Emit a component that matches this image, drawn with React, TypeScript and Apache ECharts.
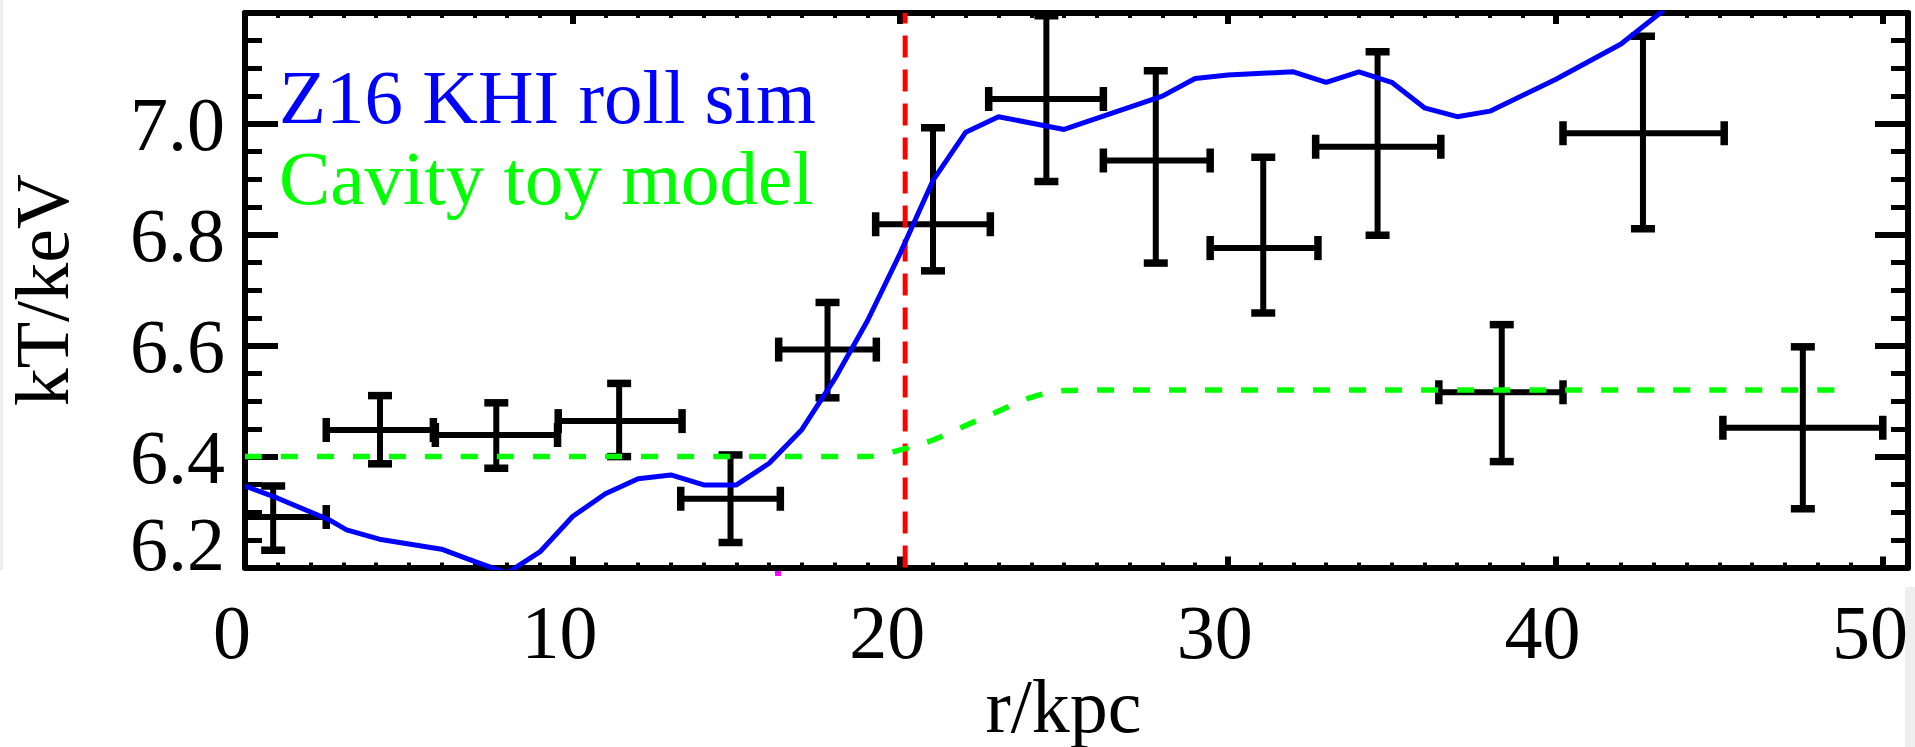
import React, { useEffect, useRef } from 'react';
import * as echarts from 'echarts';

const FONT = '"Liberation Serif", "Times New Roman", serif';

// Axis ranges
const X_MIN = 0;
const X_MAX = 50.76;
const Y_MIN = 6.2;
const Y_MAX = 7.2;
const xTickLabels = ['0', '10', '20', '30', '40', '50'];
const yTickLabels = ['6.2', '6.4', '6.6', '6.8', '7.0'];

// Z16 KHI roll simulation (blue)
const simR = [0, 1, 2, 2.6, 3.1, 4.1, 6, 7, 8, 9, 10, 11, 12, 13, 14, 15, 16, 17, 18, 19, 20, 21, 22, 23, 25, 28, 29, 30, 32, 33, 34, 35, 36, 37, 38, 40, 42, 43.3];
const simT = [6.347, 6.325, 6.3, 6.285, 6.268, 6.251, 6.233, 6.211, 6.19, 6.228, 6.292, 6.333, 6.36, 6.367, 6.349, 6.349, 6.388, 6.449, 6.54, 6.645, 6.767, 6.898, 6.985, 7.013, 6.99, 7.05, 7.082, 7.088, 7.094, 7.075, 7.094, 7.075, 7.029, 7.013, 7.023, 7.08, 7.144, 7.205];

// Cavity toy model (green dashed)
const toyR = [0, 19, 20, 21, 22, 23, 24, 25, 26, 49];
const toyT = [6.4, 6.4, 6.412, 6.43, 6.456, 6.482, 6.507, 6.519, 6.52, 6.52];

// Observed profile with error bars
const obsR = [0.86, 4.12, 7.67, 11.42, 14.82, 17.78, 21.0, 24.46, 27.8, 31.08, 34.57, 38.36, 42.67, 47.55];
const obsT = [6.291, 6.448, 6.439, 6.464, 6.324, 6.593, 6.819, 7.045, 6.934, 6.776, 6.959, 6.516, 6.983, 6.452];
const obsRlo = [-0.76, 2.48, 5.81, 9.56, 13.3, 16.29, 19.25, 22.7, 26.2, 29.46, 32.68, 36.44, 40.23, 45.11];
const obsRhi = [2.48, 5.75, 9.54, 13.34, 16.34, 19.27, 22.75, 26.2, 29.46, 32.75, 36.5, 40.23, 45.15, 49.99];
const obsTlo = [6.231, 6.387, 6.379, 6.4, 6.245, 6.506, 6.735, 6.896, 6.749, 6.659, 6.799, 6.391, 6.811, 6.306];
const obsThi = [6.347, 6.51, 6.497, 6.532, 6.403, 6.678, 6.993, 7.195, 7.096, 6.94, 7.13, 6.638, 7.158, 6.598];

// Cavity edge (red dashed vertical)
const cavityEdgeR = 20.15;

const SIM_NAME = 'Z16 KHI roll sim';
const TOY_NAME = 'Cavity toy model';

export default function App() {
  const ref = useRef<HTMLDivElement>(null);

  useEffect(() => {
    if (!ref.current) return;
    const chart = echarts.init(ref.current, null, { renderer: 'svg' });

    const simData = simR.map((r, i) => [r, simT[i]]);
    const toyData = toyR.map((r, i) => [r, toyT[i]]);
    const obsData = obsR.map((r, i) => [r, obsT[i], obsRlo[i], obsRhi[i], obsTlo[i], obsThi[i]]);

    const baseX = {
      type: 'value',
      min: X_MIN,
      max: X_MAX,
      splitLine: { show: false },
    };

    const xLabelFmt = (v: number) => {
      const s = String(Math.round(v));
      return Math.abs(v - Math.round(v)) < 1e-6 && xTickLabels.includes(s) ? s : '';
    };
    const yLabelFmt = (v: number) => {
      const s = (Math.round(v * 10) / 10).toFixed(1);
      if (!yTickLabels.includes(s)) return '';
      if (s === '6.2') return '6.2\n ';
      return s;
    };

    const option: any = {
      animation: false,
      backgroundColor: '#ffffff',
      grid: { left: 245, right: 7, top: 13, bottom: 179.5, containLabel: false, outerBoundsMode: 'none' },
      legend: {
        show: true,
        orient: 'vertical',
        left: 274,
        top: 54.5,
        padding: 0,
        itemGap: 0,
        itemWidth: 0,
        itemHeight: 85,
        icon: 'none',
        selectedMode: false,
        textStyle: { fontFamily: FONT, fontSize: 77 },
        data: [
          { name: SIM_NAME, textStyle: { color: '#0000ff' } },
          { name: TOY_NAME, textStyle: { color: '#00ff00' } },
        ],
      },
      xAxis: [
        {
          ...baseX,
          position: 'bottom',
          interval: 10,
          axisLine: { show: true, onZero: false, lineStyle: { color: '#000', width: 6 } },
          axisTick: { show: true, inside: true, length: 11, lineStyle: { color: '#000', width: 6 } },
          axisLabel: {
            show: true,
            color: '#000',
            fontFamily: FONT,
            fontSize: 76,
            margin: 26,
            padding: [0, 26, 0, 0],
            formatter: xLabelFmt,
          },
          name: 'r/kpc',
          nameLocation: 'middle',
          nameGap: 100,
          nameMoveOverlap: false,
          nameTextStyle: { color: '#000', fontFamily: FONT, fontSize: 76, lineHeight: 76, padding: [0, 26, 0, 0] },
        },
        {
          ...baseX,
          position: 'bottom',
          interval: 1,
          axisLine: { show: false },
          axisTick: { show: true, inside: true, length: 5, lineStyle: { color: '#000', width: 4 } },
          axisLabel: { show: false },
        },
        {
          ...baseX,
          position: 'top',
          interval: 10,
          axisLine: { show: true, onZero: false, lineStyle: { color: '#000', width: 6 } },
          axisTick: { show: true, inside: true, length: 11, lineStyle: { color: '#000', width: 6 } },
          axisLabel: { show: false },
        },
        {
          ...baseX,
          position: 'top',
          interval: 1,
          axisLine: { show: false },
          axisTick: { show: true, inside: true, length: 5, lineStyle: { color: '#000', width: 4 } },
          axisLabel: { show: false },
        },
      ],
      yAxis: [
        {
          type: 'value',
          position: 'left',
          min: Y_MIN,
          max: Y_MAX,
          interval: 0.2,
          splitLine: { show: false },
          axisLine: { show: true, onZero: false, lineStyle: { color: '#000', width: 6 } },
          axisTick: { show: true, inside: true, length: 33, lineStyle: { color: '#000', width: 6 } },
          minorTick: { show: true, splitNumber: 4, length: 17, lineStyle: { color: '#000', width: 5 } },
          axisLabel: {
            show: true,
            color: '#000',
            fontFamily: FONT,
            fontSize: 76,
            margin: 20,
            lineHeight: 47,
            formatter: yLabelFmt,
          },
          name: 'kT/keV',
          nameLocation: 'middle',
          nameRotate: 90,
          nameGap: 165,
          nameTextStyle: { color: '#000', fontFamily: FONT, fontSize: 76, lineHeight: 76 },
        },
        {
          type: 'value',
          position: 'right',
          min: Y_MIN,
          max: Y_MAX,
          interval: 0.2,
          splitLine: { show: false },
          axisLine: { show: true, onZero: false, lineStyle: { color: '#000', width: 6 } },
          axisTick: { show: true, inside: true, length: 33, lineStyle: { color: '#000', width: 6 } },
          minorTick: { show: true, splitNumber: 4, length: 17, lineStyle: { color: '#000', width: 5 } },
          axisLabel: { show: false },
        },
      ],
      series: [
        {
          name: 'Observed',
          type: 'custom',
          xAxisIndex: 0,
          yAxisIndex: 0,
          clip: true,
          z: 2,
          encode: { x: 0, y: 1 },
          data: obsData,
          renderItem: (params: any, api: any) => {
            const x = api.value(0);
            const y = api.value(1);
            const pL = api.coord([api.value(2), y]);
            const pR = api.coord([api.value(3), y]);
            const pB = api.coord([x, api.value(4)]);
            const pT = api.coord([x, api.value(5)]);
            const cap = 12;
            const bar = { stroke: '#000', lineWidth: 6, fill: null };
            const capS = { stroke: '#000', lineWidth: 7.5, fill: null };
            return {
              type: 'group',
              children: [
                { type: 'line', shape: { x1: pL[0], y1: pL[1], x2: pR[0], y2: pR[1] }, style: bar },
                { type: 'line', shape: { x1: pB[0], y1: pB[1], x2: pT[0], y2: pT[1] }, style: bar },
                { type: 'line', shape: { x1: pL[0], y1: pL[1] - cap, x2: pL[0], y2: pL[1] + cap }, style: capS },
                { type: 'line', shape: { x1: pR[0], y1: pR[1] - cap, x2: pR[0], y2: pR[1] + cap }, style: capS },
                { type: 'line', shape: { x1: pB[0] - cap, y1: pB[1], x2: pB[0] + cap, y2: pB[1] }, style: capS },
                { type: 'line', shape: { x1: pT[0] - cap, y1: pT[1], x2: pT[0] + cap, y2: pT[1] }, style: capS },
              ],
            };
          },
        },
        {
          name: 'Cavity edge',
          type: 'line',
          xAxisIndex: 0,
          yAxisIndex: 0,
          z: 3,
          showSymbol: false,
          symbol: 'none',
          clip: true,
          data: [[cavityEdgeR, Y_MIN], [cavityEdgeR, Y_MAX]],
          lineStyle: { color: '#ff0000', width: 5, type: [22, 12] },
        },
        {
          name: TOY_NAME,
          type: 'line',
          xAxisIndex: 0,
          yAxisIndex: 0,
          z: 4,
          showSymbol: false,
          symbol: 'none',
          smooth: 0.3,
          clip: true,
          data: toyData,
          lineStyle: { color: '#00ff00', width: 5.5, type: [17, 19] },
        },
        {
          name: SIM_NAME,
          type: 'line',
          xAxisIndex: 0,
          yAxisIndex: 0,
          z: 5,
          showSymbol: false,
          symbol: 'none',
          clip: true,
          data: simData,
          lineStyle: { color: '#0000ff', width: 5 },
        },
      ],
      graphic: [
        { type: 'rect', left: 0, top: 0, shape: { x: 0, y: 0, width: 3, height: 570 }, style: { fill: '#eeeeee' }, silent: true },
        { type: 'rect', left: 1905, top: 587, shape: { x: 0, y: 0, width: 10, height: 160 }, style: { fill: '#eeeeee' }, silent: true },
        { type: 'rect', left: 775, top: 571, shape: { x: 0, y: 0, width: 6, height: 5 }, style: { fill: '#ff00ff' }, silent: true },
      ],
    };

    chart.setOption(option);
    return () => {
      chart.dispose();
    };
  }, []);

  return (
    <div
      ref={ref}
      style={{ position: 'fixed', left: 0, top: 0, width: 1915, height: 747, background: '#ffffff' }}
    />
  );
}
